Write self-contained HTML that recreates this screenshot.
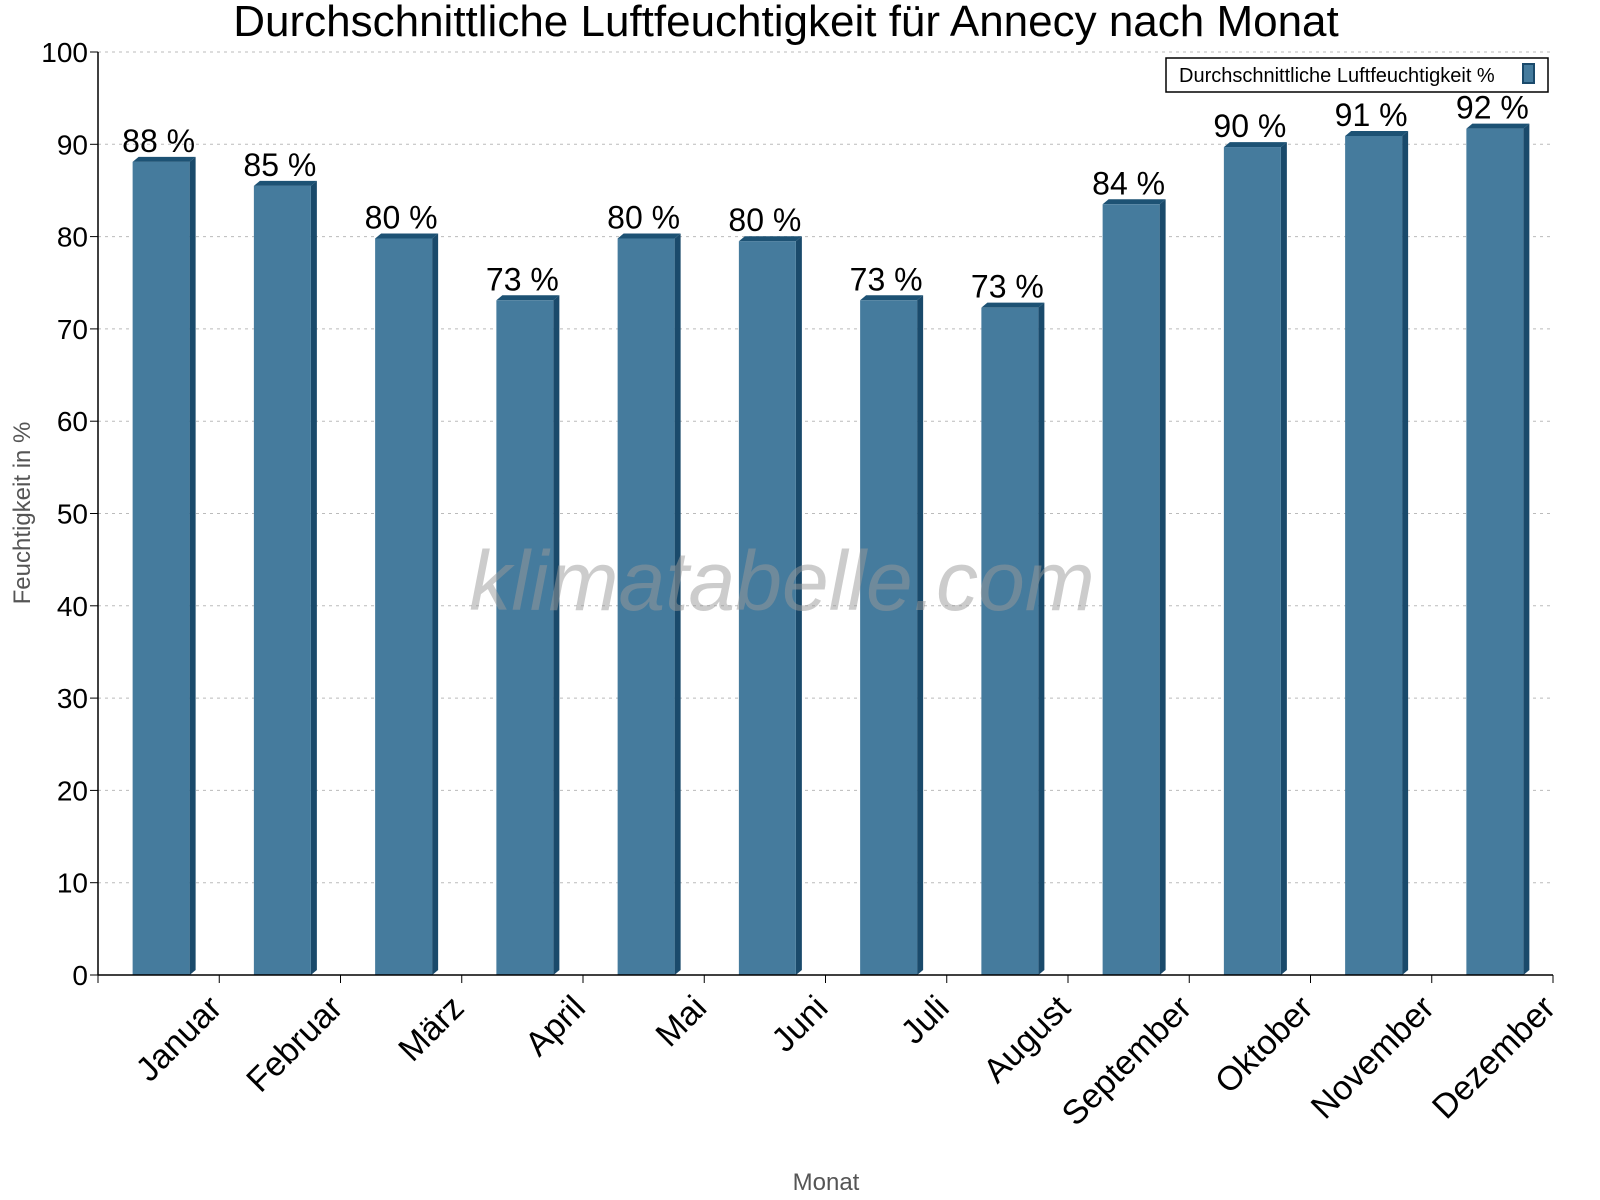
<!DOCTYPE html>
<html><head><meta charset="utf-8"><style>body{margin:0;background:#fff}svg{display:block;font-family:"Liberation Sans",sans-serif}</style></head>
<body>
<svg id="chart" width="1600" height="1200">
<text x="786" y="36" font-size="44" text-anchor="middle">Durchschnittliche Luftfeuchtigkeit für Annecy nach Monat</text>
<text x="30" y="513" font-size="24" fill="#555" text-anchor="middle" transform="rotate(-90 30 513)">Feuchtigkeit in %</text>
<text x="826" y="1190" font-size="24" fill="#555" text-anchor="middle">Monat</text>
<g id="grid"></g><g id="bars"></g><g id="axes"></g>
<text x="782" y="610" font-size="84" font-style="italic" fill="#999" fill-opacity="0.5" text-anchor="middle">klimatabelle.com</text>
<g>
<rect x="1166" y="58" width="382" height="34" fill="#fff" stroke="#000" stroke-width="1.5"/>
<text x="1179" y="82" font-size="20">Durchschnittliche Luftfeuchtigkeit %</text>
<rect x="1523" y="64" width="11" height="19" fill="#457b9d" stroke="#1a4a6b" stroke-width="2"/>
</g>
</svg>
<script>
const months=["Januar","Februar","März","April","Mai","Juni","Juli","August","September","Oktober","November","Dezember"];
const values=[88.1,85.5,79.8,73.1,79.8,79.5,73.1,72.3,83.5,89.7,90.9,91.7];
const labels=["88 %","85 %","80 %","73 %","80 %","80 %","73 %","73 %","84 %","90 %","91 %","92 %"];
const yTicks=[0,10,20,30,40,50,60,70,80,90,100];
const NS="http://www.w3.org/2000/svg";
const x0=98,x1=1553,y0=975,y1=52;
const bw=(x1-x0)/months.length;
const y=v=>y0-(v/100)*(y0-y1);
const cx=i=>x0+bw*(i+0.5);
function mk(tag,attrs,parent,txt){const e=document.createElementNS(NS,tag);for(const k in attrs)e.setAttribute(k,attrs[k]);if(txt!==undefined)e.textContent=txt;parent.appendChild(e);return e;}
const grid=document.getElementById('grid'),bars=document.getElementById('bars'),axes=document.getElementById('axes');
yTicks.forEach(t=>{
  if(t>0){const g=mk('line',{x1:x0,x2:x1,y1:y(t),y2:y(t),stroke:'#bbb','stroke-dasharray':'3,4'},grid);
  
  }
  mk('line',{x1:x0-8,x2:x0,y1:y(t),y2:y(t),stroke:'#000'},axes);
  const l=mk('text',{x:x0-10,y:y(t)+10,'font-size':28,'text-anchor':'end'},axes,t);
  
  
});
mk('line',{x1:x0,x2:x0,y1:y1,y2:y0,stroke:'#000','stroke-width':1.5},axes);
mk('line',{x1:x0,x2:x1,y1:y0,y2:y0,stroke:'#000','stroke-width':1.5},axes);
months.forEach((m,i)=>{
  const xl=cx(i)-26,w=57,top=y(values[i]),d=6,u=5;
  const g=mk('g',{},bars);
  
  
  mk('polygon',{points:`${xl+w},${top} ${xl+w+d},${top-u} ${xl+w+d},${y0-u} ${xl+w},${y0}`,fill:'#1a4a6b'},g);
  mk('polygon',{points:`${xl},${top} ${xl+d},${top-u} ${xl+w+d},${top-u} ${xl+w},${top}`,fill:'#1d5274'},g);
  mk('rect',{x:xl,y:top,width:w,height:y0-top,fill:'#457b9d'},g);
  const vl=mk('text',{x:cx(i),y:top-10,'font-size':32,'text-anchor':'middle'},bars,labels[i]);
  
  
  const tx=x0+bw*(i+1);
  mk('line',{x1:tx,x2:tx,y1:y0,y2:y0+8,stroke:'#000'},axes);
  const ax=cx(i)+48,ay=y0+18;
  const xl2=mk('text',{x:ax,y:ay,'font-size':34,'text-anchor':'end',transform:`rotate(-45 ${ax} ${ay})`,dy:'0.7em'},axes,m);
  
  
});
mk('line',{x1:x0,x2:x0,y1:y0,y2:y0+8,stroke:'#000'},axes);
</script>
</body></html>
